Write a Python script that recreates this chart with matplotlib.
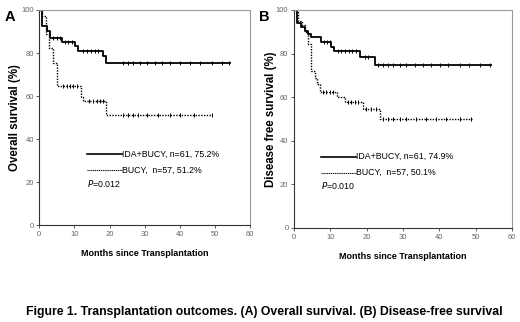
import matplotlib
matplotlib.use('Agg')
import matplotlib.pyplot as plt

# Panel A: overall survival (step curves, months / %)
tA_ida = [0, 0.85, 2.1, 3.0, 6.4, 10.2, 11.0, 18.0, 19.0, 54.2]
sA_ida = [100, 92.5, 90.4, 87.2, 85.3, 83.2, 81.1, 78.4, 75.2, 75.2]
cA_ida = [4, 5, 5.9, 7.3, 8.3, 9.2, 12.5, 13.7, 14.6, 15.9, 16.8,
          23.9, 25.3, 26.8, 28.7, 30.6, 33, 34.9, 37.2, 40.1, 42.9, 45.8, 49.1, 52, 54.1]
tA_bu = [0, 0.9, 1.8, 2.8, 3.8, 4.9, 11.9, 12.5, 19.0, 49.1]
sA_bu = [100, 97, 89, 82.4, 75.2, 64.5, 59.5, 57.8, 51.2, 51.2]
cA_bu = [6.8, 7.8, 8.7, 9.7, 10.6, 14, 15.4, 16.3, 17.3, 18.2,
         23.9, 25.3, 26.8, 28.2, 30.6, 33.9, 37.2, 40.1, 43.9, 49.1]

# Panel B: disease free survival
tB_ida = [0, 0.8, 2.0, 2.9, 3.9, 4.8, 7.5, 10.3, 10.9, 18.3, 22.2, 54.3]
sB_ida = [100, 94.2, 92.3, 90.5, 88.8, 87.4, 85.4, 83.2, 81.2, 78.5, 74.9, 74.9]
cB_ida = [8.3, 9.2, 10, 12, 13, 14, 15, 16, 17, 19.5, 20.5,
          23.1, 24.5, 25.9, 27.2, 29.1, 30.9, 33.2, 35.5, 37.8, 40.1, 42.4, 45.6, 48.3, 51.1, 53.9]
tB_bu = [0, 1.1, 2.3, 2.9, 3.9, 4.8, 5.9, 6.3, 7.1, 11.8, 13.9, 19.0, 23.8, 49.1]
sB_bu = [100, 95.1, 93, 90, 84.6, 72, 69, 66.2, 62.5, 60, 57.7, 54.6, 50.1, 50.1]
cB_bu = [8, 8.9, 9.8, 10.7, 14.9, 15.8, 16.7, 17.6, 19.9, 21.3, 22.7,
         24.5, 25.9, 27.2, 29.1, 30.9, 33.7, 36.4, 39.2, 41.9, 45.6, 48.8]

labelsA = ['IDA+BUCY, n=61, 75.2%', 'BUCY,  n=57, 51.2%', '=0.012']
labelsB = ['IDA+BUCY, n=61, 74.9%', 'BUCY,  n=57, 50.1%', '=0.010']
xticks = [0, 10, 20, 30, 40, 50, 60]
yticks = [0, 20, 40, 60, 80, 100]

plt.rcParams['font.family'] = ['Liberation Sans', 'DejaVu Sans']


def value_at(t, s, x):
    v = s[0]
    for ti, si in zip(t, s):
        if ti <= x:
            v = si
    return v


def draw_panel(ax, t1, s1, c1, t2, s2, c2, labels, leg_x, leg_y, ylabel, ylab_x):
    ax.step(t1, s1, where='post', color='black', lw=1.3)
    ax.plot(c1, [value_at(t1, s1, x) for x in c1], ls='none', marker='|',
            ms=3, mew=0.7, color='black')
    ax.step(t2, s2, where='post', color='black', lw=1.0, ls=(0, (1, 1)))
    ax.plot(c2, [value_at(t2, s2, x) for x in c2], ls='none', marker='|',
            ms=3, mew=0.7, color='black')

    ax.set_xlim(0, 60)
    ax.set_ylim(0, 100)
    ax.set_xticks(xticks)
    ax.set_yticks(yticks)
    ax.tick_params(labelsize=5.5, labelcolor='#666666', length=2.5, width=0.6,
                   color='#444444', pad=1.5)
    for side in ['top', 'right']:
        ax.spines[side].set_color('#999999')
        ax.spines[side].set_linewidth(0.8)
    for side in ['left', 'bottom']:
        ax.spines[side].set_color('#333333')
        ax.spines[side].set_linewidth(0.8)

    ax.set_xlabel('Months since Transplantation', fontsize=6.5, fontweight='bold',
                  labelpad=8)
    ax.set_ylabel(ylabel, fontsize=8.3, fontweight='bold')
    ax.yaxis.set_label_coords(ylab_x, 0.5)

    x0, x1 = leg_x
    ax.plot([x0, x1], [leg_y[0], leg_y[0]], color='black', lw=1.2)
    ax.plot([x0, x1], [leg_y[1], leg_y[1]], color='black', lw=0.8, ls=(0, (1, 0.7)))
    ax.text(x1, leg_y[0], labels[0], fontsize=6.3, va='center', ha='left')
    ax.text(x1, leg_y[1], labels[1], fontsize=6.3, va='center', ha='left')
    ax.text(x0, leg_y[2], r'$P$' + labels[2], fontsize=6.3, va='center', ha='left')


fig = plt.figure(figsize=(5.2, 3.22), dpi=100)
axA = fig.add_axes([0.0756, 0.301, 0.4054, 0.668])
axB = fig.add_axes([0.5654, 0.292, 0.4192, 0.677])

draw_panel(axA, tA_ida, sA_ida, cA_ida, tA_bu, sA_bu, cA_bu, labelsA,
           (13.5, 23.4), (33, 25.6, 19.5), 'Overall survival (%)', -0.085)
draw_panel(axB, tB_ida, sB_ida, cB_ida, tB_bu, sB_bu, cB_bu, labelsB,
           (7.5, 17.2), (32.7, 25.4, 19.7), 'Disease free survival (%)', -0.08)

fig.text(5 / 520, 1 - 17 / 322, 'A', fontsize=10.5, fontweight='bold',
         ha='left', va='center')
fig.text(259 / 520, 1 - 17 / 322, 'B', fontsize=10.5, fontweight='bold',
         ha='left', va='center')

fig.text(264.5 / 520, 1 - 312 / 322,
         'Figure 1. Transplantation outcomes. (A) Overall survival. (B) Disease-free survival',
         fontsize=8.85, fontweight='bold', ha='center', va='center')

fig.savefig('out.png', dpi=100)
